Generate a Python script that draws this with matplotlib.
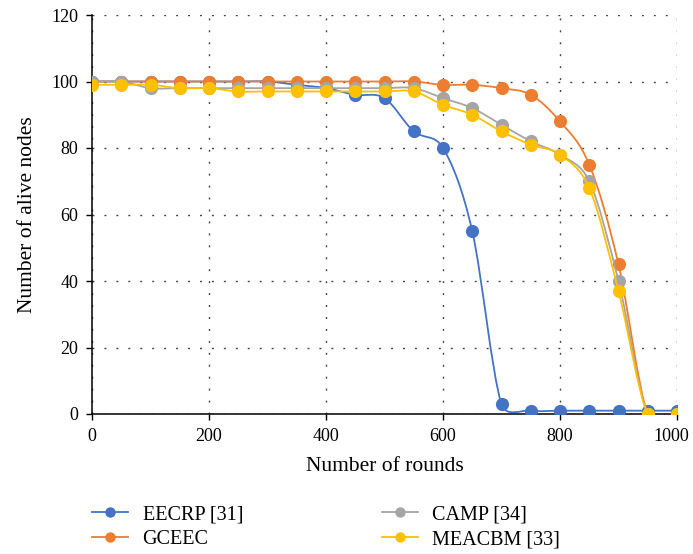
import numpy as np
import matplotlib
matplotlib.use("Agg")
import matplotlib.pyplot as plt
from matplotlib.path import Path
from matplotlib.patches import PathPatch
from matplotlib.lines import Line2D
from matplotlib.transforms import ScaledTranslation

rounds = [0, 50, 100, 150, 200, 250, 300, 350, 400, 450, 500,
          550, 600, 650, 700, 750, 800, 850, 900, 950, 1000]

eecrp = [100, 100, 100, 100, 100, 100, 100, 99, 98, 96, 95,
         85, 80, 55, 3, 1, 1, 1, 1, 1, 1]
gceec = [100, 100, 100, 100, 100, 100, 100, 100, 100, 100, 100,
         100, 99, 99, 98, 96, 88, 75, 45, 0, 0]
camp = [100, 100, 98, 98, 98, 98, 98, 98, 98, 98, 98,
        98, 95, 92, 87, 82, 78, 70, 40, 0, 0]
meacbm = [99, 99, 99, 98, 98, 97, 97, 97, 97, 97, 97,
          97, 93, 90, 85, 81, 78, 68, 37, 0, 0]

names = ["EECRP [31]", "GCEEC", "CAMP [34]", "MEACBM [33]"]
colors = ["#4472C4", "#ED7D31", "#A5A5A5", "#FFC000"]

plt.rcParams['font.family'] = ['Liberation Serif', 'DejaVu Serif']


def smooth_path(ax, x, y):
    # excel style smoothing, worked out in screen units then mapped back
    p = ax.transData.transform(np.column_stack([x, y]).astype(float))
    n = len(p)
    verts = [p[0]]
    codes = [Path.MOVETO]
    for i in range(n - 1):
        p1, p2 = p[i], p[i + 1]
        p0 = p[i - 1] if i > 0 else p1
        p3 = p[i + 2] if i + 2 < n else p2
        d12 = np.hypot(*(p2 - p1))
        d02 = np.hypot(*(p2 - p0))
        d13 = np.hypot(*(p3 - p1))
        f0 = 1 / 6 if d02 / 6 < d12 / 2 else (d12 / 2 / d02 if d02 > 0 else 0)
        f3 = 1 / 6 if d13 / 6 < d12 / 2 else (d12 / 2 / d13 if d13 > 0 else 0)
        if i == 0:
            f0 = f0 * 2
        if i + 2 >= n:
            f3 = f3 * 2
        c1 = p1 + f0 * (p2 - p0)
        c2 = p2 - f3 * (p3 - p1)
        verts += [c1, c2, p2]
        codes += [Path.CURVE4] * 3
    verts = ax.transData.inverted().transform(np.array(verts))
    return Path(verts, codes)


fig = plt.figure(figsize=(6.93, 5.54), dpi=100)
ax = fig.add_axes([92 / 693, 1 - 414 / 554, 585 / 693, 399 / 554])

ax.set_xlim(0, 1000)
ax.set_ylim(0, 120)
ax.set_xticks(np.arange(0, 1001, 200))
ax.set_yticks(np.arange(0, 121, 20))

handles = []
for vals, c, name in zip([eecrp, gceec, camp, meacbm], colors, names):
    patch = PathPatch(smooth_path(ax, rounds, vals), facecolor='none',
                      edgecolor=c, lw=1.3, transform=ax.transData, zorder=3)
    ax.add_patch(patch)
    ax.plot(rounds, vals, linestyle='none', marker='o', markersize=9.5,
            color=c, markeredgewidth=0, zorder=3)
    handles.append(Line2D([], [], color=c, lw=1.3, marker='o',
                          markersize=7.5, markeredgewidth=0, label=name))

ax.grid(True, color='#444444', linestyle=(0, (1.4, 7.2)), linewidth=1.0)
ax.set_axisbelow(True)

for s in ['top', 'right']:
    ax.spines[s].set_visible(False)
for s in ['left', 'bottom']:
    ax.spines[s].set_linewidth(1.1)
    ax.spines[s].set_color('black')
ax.tick_params(direction='out', length=4, width=1.0, labelsize=13,
               colors='black', pad=6)

# last x label sits right at the figure edge, nudge it in a bit
lab = ax.get_xticklabels()[-1]
lab.set_transform(lab.get_transform() +
                  ScaledTranslation(-4 / 72, 0, fig.dpi_scale_trans))

ax.set_xlabel("Number of rounds", fontsize=15.5, labelpad=9)
ax.set_ylabel("Number of alive nodes", fontsize=15.5, labelpad=10)

fig.legend(handles=handles, loc='upper left', bbox_to_anchor=(0.133, 0.088),
           ncol=2, frameon=False, fontsize=14.5, handlelength=1.8,
           handletextpad=0.7, columnspacing=6.9, labelspacing=0.3,
           borderpad=0, borderaxespad=0)

fig.savefig("out.png", dpi=100)
